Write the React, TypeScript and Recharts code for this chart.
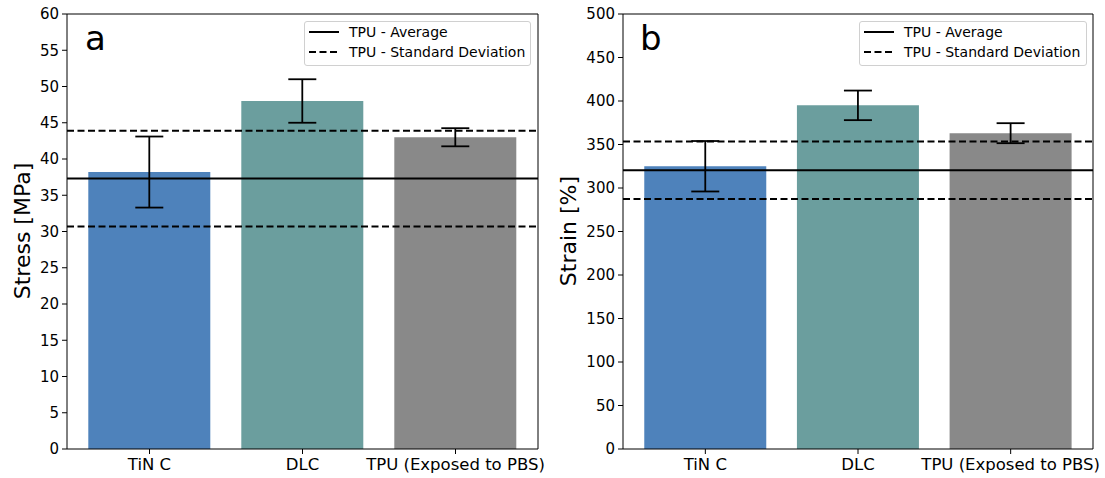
import React from 'react';
import { ComposedChart, Bar, XAxis, YAxis, ErrorBar, ReferenceLine, Cell } from 'recharts';

const categories = ['TiN C', 'DLC', 'TPU (Exposed to PBS)'];
const barColors = ['#4e82bb', '#6b9e9e', '#898989'];

const stressMean = [38.2, 48.0, 43.0];
const stressErr = [4.9, 3.0, 1.25];
const stressTpuAvg = 37.3;
const stressTpuSd = 6.6;
const stressTicks = [0, 5, 10, 15, 20, 25, 30, 35, 40, 45, 50, 55, 60];

const strainMean = [325, 395, 363];
const strainErr = [29, 17, 11.5];
const strainTpuAvg = 320.5;
const strainTpuSd = 33;
const strainTicks = [0, 50, 100, 150, 200, 250, 300, 350, 400, 450, 500];

const FONT = '"DejaVu Sans", Verdana, sans-serif';

type PanelProps = {
  left: number;
  width: number;
  marginLeft: number;
  yWidth: number;
  marginRight: number;
  means: number[];
  errs: number[];
  avg: number;
  sd: number;
  ticks: number[];
  yLabel: string;
  letter: string;
  letterX: number;
  labelX: number;
  legendLeft: number;
  legendWidth: number;
};

function Panel(p: PanelProps) {
  const data = categories.map((c, i) => ({ name: c, value: p.means[i], err: p.errs[i] }));
  const height = 478;
  const max = p.ticks[p.ticks.length - 1];
  return (
    <div style={{ position: 'absolute', left: p.left, top: 0, width: p.width, height }}>
      <ComposedChart
        width={p.width}
        height={height}
        data={data}
        margin={{ top: 13, right: p.marginRight, bottom: 0, left: p.marginLeft }}
        barCategoryGap="10%"
      >
        <XAxis
          dataKey="name"
          xAxisId="bottom"
          height={29}
          padding={{ left: 6, right: 6 }}
          stroke="#000"
          tickSize={5}
          tickMargin={4}
          tick={{ fill: '#000', fontSize: 16.5, fontFamily: FONT }}
          interval={0}
        />
        <XAxis
          dataKey="name"
          xAxisId="top"
          orientation="top"
          height={1}
          stroke="#000"
          tick={false}
          tickLine={false}
        />
        <YAxis
          yAxisId="left"
          width={p.yWidth}
          domain={[0, max]}
          ticks={p.ticks}
          stroke="#000"
          tickSize={5}
          tickMargin={3}
          interval={0}
          tick={{ fill: '#000', fontSize: 15, fontFamily: FONT }}
        />
        <YAxis
          yAxisId="right"
          orientation="right"
          width={1}
          domain={[0, max]}
          stroke="#000"
          tick={false}
          tickLine={false}
        />
        <Bar dataKey="value" xAxisId="bottom" yAxisId="left" isAnimationActive={false}>
          {data.map((d, i) => (
            <Cell key={d.name} fill={barColors[i]} />
          ))}
          <ErrorBar dataKey="err" width={14} stroke="#000" strokeWidth={1.8} direction="y" />
        </Bar>
        <ReferenceLine xAxisId="bottom" yAxisId="left" y={p.avg} stroke="#000" strokeWidth={2} />
        <ReferenceLine xAxisId="bottom" yAxisId="left" y={p.avg + p.sd} stroke="#000" strokeWidth={2} strokeDasharray="7 3.5" />
        <ReferenceLine xAxisId="bottom" yAxisId="left" y={p.avg - p.sd} stroke="#000" strokeWidth={2} strokeDasharray="7 3.5" />
      </ComposedChart>
      <div
        style={{
          position: 'absolute',
          left: p.letterX,
          top: 18,
          fontFamily: FONT,
          fontSize: 34,
          lineHeight: '40px',
          color: '#000',
        }}
      >
        {p.letter}
      </div>
      <div
        style={{
          position: 'absolute',
          left: p.labelX,
          top: 231,
          transform: 'translate(-50%, -50%) rotate(-90deg)',
          fontFamily: FONT,
          fontSize: 22,
          whiteSpace: 'nowrap',
          color: '#000',
        }}
      >
        {p.yLabel}
      </div>
      <div
        style={{
          position: 'absolute',
          left: p.legendLeft,
          top: 21,
          width: p.legendWidth,
          height: 45,
          boxSizing: 'border-box',
          border: '1px solid #d0d0d0',
          borderRadius: 3,
          background: 'rgba(255,255,255,0.85)',
          fontFamily: FONT,
          fontSize: 14,
          color: '#000',
        }}
      >
        <div style={{ position: 'absolute', left: 4, top: 1, height: 18, display: 'flex', alignItems: 'center' }}>
          <svg width={30} height={4} style={{ marginRight: 10 }}>
            <line x1={0} y1={2} x2={30} y2={2} stroke="#000" strokeWidth={2} />
          </svg>
          <span>TPU - Average</span>
        </div>
        <div style={{ position: 'absolute', left: 4, top: 21, height: 18, display: 'flex', alignItems: 'center' }}>
          <svg width={30} height={4} style={{ marginRight: 10 }}>
            <line x1={0} y1={2} x2={30} y2={2} stroke="#000" strokeWidth={2} strokeDasharray="7 3.5" />
          </svg>
          <span>TPU - Standard Deviation</span>
        </div>
      </div>
    </div>
  );
}

export default function App() {
  return (
    <div style={{ position: 'absolute', left: 0, top: 0, width: 1105, height: 478, background: '#fff' }}>
      <Panel
        left={0}
        width={552}
        marginLeft={27}
        yWidth={40}
        marginRight={13}
        means={stressMean}
        errs={stressErr}
        avg={stressTpuAvg}
        sd={stressTpuSd}
        ticks={stressTicks}
        yLabel="Stress [MPa]"
        letter="a"
        letterX={85}
        labelX={22}
        legendLeft={304}
        legendWidth={227}
      />
      <Panel
        left={556}
        width={549}
        marginLeft={22}
        yWidth={45}
        marginRight={11}
        means={strainMean}
        errs={strainErr}
        avg={strainTpuAvg}
        sd={strainTpuSd}
        ticks={strainTicks}
        yLabel="Strain [%]"
        letter="b"
        letterX={84}
        labelX={12}
        legendLeft={303}
        legendWidth={228}
      />
    </div>
  );
}
